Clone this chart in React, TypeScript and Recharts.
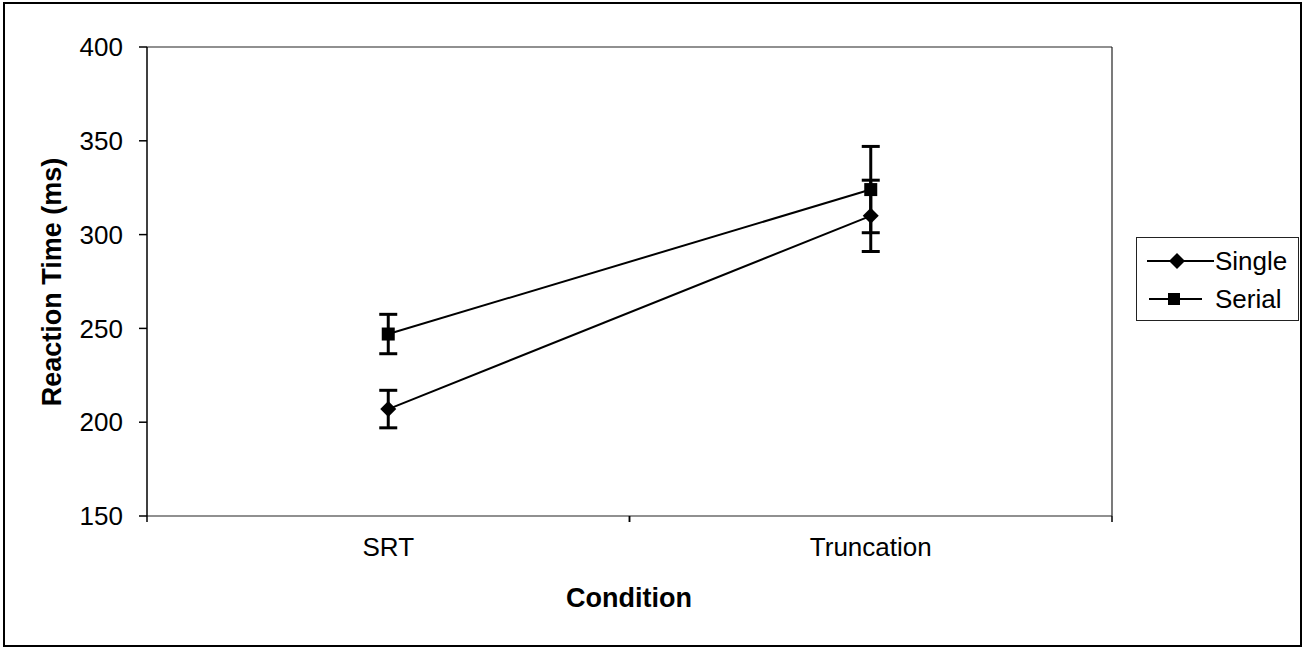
import { LineChart, Line, XAxis, YAxis, ErrorBar, Legend, CartesianGrid } from 'recharts';

const categories = ['SRT', 'Truncation'];
const singleValues = [207, 310];
const singleErrors = [10, 19];
const serialValues = [247, 324];
const serialErrors = [10.5, 23];
const yTicks = [150, 200, 250, 300, 350, 400];

const data = categories.map((name, i) => ({
  name,
  single: singleValues[i],
  singleErr: singleErrors[i],
  serial: serialValues[i],
  serialErr: serialErrors[i],
}));

const FONT = '"Liberation Sans", Arial, sans-serif';

function DiamondDot(props: any) {
  const { cx, cy, index } = props;
  if (cx == null || cy == null) return <g key={`d-${index}`} />;
  const s = 8;
  return (
    <polygon
      key={`d-${index}`}
      points={`${cx},${cy - s} ${cx + s},${cy} ${cx},${cy + s} ${cx - s},${cy}`}
      fill="#000"
    />
  );
}

function SquareDot(props: any) {
  const { cx, cy, index } = props;
  if (cx == null || cy == null) return <g key={`s-${index}`} />;
  const s = 6.5;
  return <rect key={`s-${index}`} x={cx - s} y={cy - s} width={s * 2} height={s * 2} fill="#000" />;
}

// category label plus Excel-style tick marks at the band edges
function CategoryTick(props: any) {
  const { x, y, payload } = props;
  const half = payload && payload.offset ? payload.offset : 0;
  const axisY = y - 22;
  return (
    <g>
      <line x1={x - half} y1={axisY} x2={x - half} y2={axisY + 6} stroke="#000" strokeWidth={1.5} />
      <line x1={x + half} y1={axisY} x2={x + half} y2={axisY + 6} stroke="#000" strokeWidth={1.5} />
      <text x={x} y={y} dy="0.71em" textAnchor="middle" fontFamily={FONT} fontSize={26} fill="#000">
        {payload.value}
      </text>
    </g>
  );
}

function renderLegend() {
  const items = [
    { label: 'Single', marker: 'diamond', x1: 10, x2: 77, mx: 40 },
    { label: 'Serial', marker: 'square', x1: 12, x2: 65, mx: 37 },
  ];
  return (
    <div
      style={{
        width: 163,
        height: 84,
        border: '1.5px solid #222',
        boxSizing: 'border-box',
        background: '#fff',
        fontFamily: FONT,
        fontSize: 26,
        color: '#000',
        paddingTop: 4,
      }}
    >
      {items.map((it) => (
        <div key={it.label} style={{ display: 'flex', alignItems: 'center', height: 38 }}>
          <svg width={78} height={20} style={{ flex: 'none' }}>
            <line x1={it.x1} y1={10} x2={it.x2} y2={10} stroke="#000" strokeWidth={2} />
            {it.marker === 'diamond' ? (
              <polygon points={`${it.mx},2 ${it.mx + 8},10 ${it.mx},18 ${it.mx - 8},10`} fill="#000" />
            ) : (
              <rect x={it.mx - 6} y={4} width={12} height={12} fill="#000" />
            )}
          </svg>
          <span style={{ lineHeight: 1 }}>{it.label}</span>
        </div>
      ))}
    </div>
  );
}

export default function App() {
  return (
    <div style={{ position: 'absolute', left: 0, top: 0, width: 1303, height: 649, background: '#fff' }}>
      <div
        style={{
          position: 'absolute',
          left: 3,
          top: 2,
          width: 1299,
          height: 645,
          border: '2px solid #000',
          boxSizing: 'border-box',
        }}
      />
      <div style={{ position: 'absolute', left: 0, top: 0 }}>
        <LineChart
          width={1303}
          height={649}
          data={data}
          margin={{ top: 47, right: 191, bottom: 73, left: 17 }}
        >
          {/* plot-area frame: top and right edges */}
          <CartesianGrid
            stroke="#222"
            strokeWidth={1.2}
            horizontalCoordinatesGenerator={({ offset }: any) => [offset.top]}
            verticalCoordinatesGenerator={({ offset }: any) => [offset.left + offset.width]}
          />
          <XAxis
            dataKey="name"
            scale="band"
            height={60}
            axisLine={{ stroke: '#222', strokeWidth: 1.2 }}
            tickLine={{ stroke: 'none' }}
            tickSize={6}
            tickMargin={16}
            tick={<CategoryTick />}
            label={{
              value: 'Condition',
              content: () => (
                <text x={629} y={598} textAnchor="middle" dominantBaseline="central" fontFamily={FONT} fontSize={27} fontWeight="bold" fill="#000">
                  Condition
                </text>
              ),
            }}
          />
          <YAxis
            domain={[150, 400]}
            ticks={yTicks}
            width={130}
            tickSize={8}
            tickMargin={16}
            axisLine={{ stroke: '#000', strokeWidth: 1.5 }}
            tickLine={{ stroke: '#000', strokeWidth: 1.5 }}
            tick={{ fill: '#000', fontSize: 26, fontFamily: FONT }}
            label={{
              value: 'Reaction Time (ms)',
              content: () => (
                <text x={52} y={282} transform="rotate(-90, 52, 282)" textAnchor="middle" dominantBaseline="central" fontFamily={FONT} fontSize={27} fontWeight="bold" fill="#000">
                  Reaction Time (ms)
                </text>
              ),
            }}
          />
          <Line
            dataKey="single"
            name="Single"
            stroke="#000"
            strokeWidth={2}
            dot={DiamondDot}
            activeDot={false}
            isAnimationActive={false}
          >
            <ErrorBar dataKey="singleErr" direction="y" width={9} stroke="#000" strokeWidth={3} />
          </Line>
          <Line
            dataKey="serial"
            name="Serial"
            stroke="#000"
            strokeWidth={2}
            dot={SquareDot}
            activeDot={false}
            isAnimationActive={false}
          >
            <ErrorBar dataKey="serialErr" direction="y" width={9} stroke="#000" strokeWidth={3} />
          </Line>
          <Legend
            layout="vertical"
            align="center"
            verticalAlign="middle"
            content={renderLegend}
            wrapperStyle={{ left: 1136, top: 237, width: 163, height: 84 }}
          />
        </LineChart>
      </div>
    </div>
  );
}
